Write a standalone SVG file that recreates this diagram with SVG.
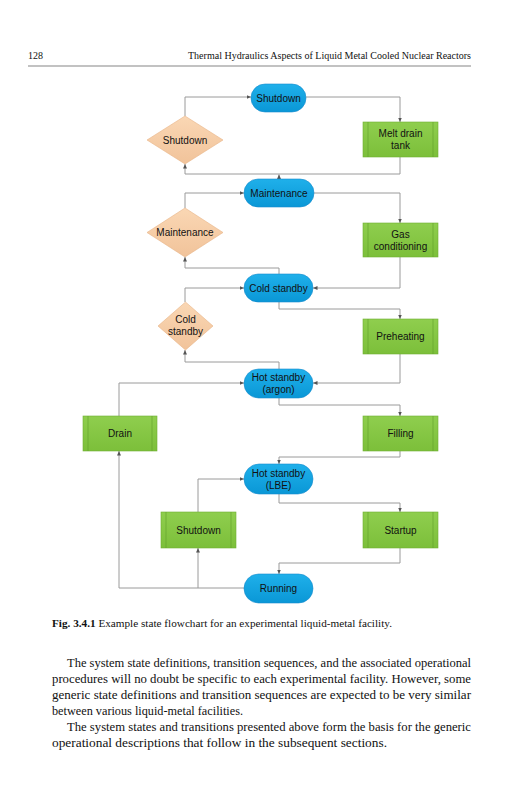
<svg xmlns="http://www.w3.org/2000/svg" width="531" height="800" viewBox="0 0 531 800">
<defs>
<linearGradient id="gb" x1="0" y1="0" x2="0" y2="1"><stop offset="0" stop-color="#1fb0ea"/><stop offset="1" stop-color="#0a97d6"/></linearGradient>
<linearGradient id="gg" x1="0" y1="0" x2="0" y2="1"><stop offset="0" stop-color="#8fce4e"/><stop offset="1" stop-color="#7cbf3a"/></linearGradient>
<linearGradient id="gd" x1="0" y1="0" x2="0" y2="1"><stop offset="0" stop-color="#fad7b4"/><stop offset="1" stop-color="#f1c39a"/></linearGradient>
<marker id="ar" markerWidth="5" markerHeight="5" refX="4.5" refY="2.5" orient="auto" markerUnits="userSpaceOnUse"><path d="M0,0.5 L4.5,2.5 L0,4.5 Z" fill="#555"/></marker>
<style>
.pill{fill:url(#gb);stroke:#1a8ccc;stroke-width:0.6}
.box{fill:url(#gg);stroke:#6fae33;stroke-width:0.6}
.bar{stroke:#5f9e2a;stroke-width:0.6}
.dia{fill:url(#gd);stroke:#e8b386;stroke-width:0.6}
.nt{font-family:"Liberation Sans",Arial,sans-serif;font-size:10px;fill:#111;text-anchor:middle}
.c{fill:none;stroke:#9a9a9a;stroke-width:1}
.a{marker-end:url(#ar)}
.hd{font-family:"Liberation Serif","Times New Roman",serif;font-size:10px;fill:#111}
.bt{font-family:"Liberation Serif","Times New Roman",serif;font-size:12px;fill:#111}
</style>
</defs>
<rect width="531" height="800" fill="#fff"/>
<text class="hd" x="28" y="58.5">128</text>
<text class="hd" x="188" y="58.5" textLength="283" lengthAdjust="spacingAndGlyphs">Thermal Hydraulics Aspects of Liquid Metal Cooled Nuclear Reactors</text>
<line x1="28" y1="66" x2="471" y2="66" stroke="#333" stroke-width="0.6"/>

<g id="connectors">
<path class="c a" d="M185,116 V97 H251"/>
<path class="c a" d="M306,97 H400 V122"/>
<path class="c a" d="M400,157 V174 H185 V164"/>
<path class="c a" d="M279,179 V174.5"/>
<path class="c a" d="M185,208 V193 H244"/>
<path class="c a" d="M314,193 H400 V223"/>
<path class="c a" d="M400,257 V288 H313"/>
<path class="c a" d="M279,274 V268 H185 V257"/>
<path class="c a" d="M279,302 V309 H400 V319"/>
<path class="c a" d="M185,302 V288 H244"/>
<path class="c a" d="M279,369 V362 H185 V350"/>
<path class="c a" d="M400,354 V383 H313"/>
<path class="c a" d="M119,416 V383 H244"/>
<path class="c a" d="M279,398 V405 H400 V416"/>
<path class="c a" d="M400,451 V457 H279 V464"/>
<path class="c a" d="M279,494 V503 H400 V512"/>
<path class="c a" d="M198,512 V479 H244"/>
<path class="c a" d="M400,548 V563 H279 V574"/>
<path class="c a" d="M244,588 H119 V451"/>
<path class="c a" d="M198,588 V548"/>
</g>

<g id="n-shutdown-state">
<rect class="pill" x="251" y="84" width="55" height="28" rx="14"/>
<text class="nt" x="278.5" y="101.5">Shutdown</text>
</g>
<g id="n-melt-drain-tank">
<rect class="box" x="363" y="122" width="75" height="35"/>
<line class="bar" x1="368" y1="122" x2="368" y2="157"/><line class="bar" x1="433" y1="122" x2="433" y2="157"/>
<text class="nt" x="400.5" y="137">Melt drain</text>
<text class="nt" x="400.5" y="149">tank</text>
</g>
<g id="n-shutdown-decision">
<polygon class="dia" points="185,116 223,140 185,164 147,140"/>
<text class="nt" x="185" y="143.5">Shutdown</text>
</g>
<g id="n-maintenance-state">
<rect class="pill" x="244" y="179" width="70" height="28" rx="14"/>
<text class="nt" x="279" y="196.5">Maintenance</text>
</g>
<g id="n-gas-conditioning">
<rect class="box" x="363" y="223" width="75" height="34"/>
<line class="bar" x1="368" y1="223" x2="368" y2="257"/><line class="bar" x1="433" y1="223" x2="433" y2="257"/>
<text class="nt" x="400.5" y="237.5">Gas</text>
<text class="nt" x="400.5" y="249.5">conditioning</text>
</g>
<g id="n-maintenance-decision">
<polygon class="dia" points="185,208 223,232.5 185,257 147,232.5"/>
<text class="nt" x="185" y="236">Maintenance</text>
</g>
<g id="n-cold-standby-state">
<rect class="pill" x="244" y="274" width="69" height="28" rx="14"/>
<text class="nt" x="278.5" y="291.5">Cold standby</text>
</g>
<g id="n-preheating">
<rect class="box" x="363" y="319" width="75" height="35"/>
<line class="bar" x1="368" y1="319" x2="368" y2="354"/><line class="bar" x1="433" y1="319" x2="433" y2="354"/>
<text class="nt" x="400.5" y="340">Preheating</text>
</g>
<g id="n-cold-standby-decision">
<polygon class="dia" points="185.5,302 213,326 185.5,350 158,326"/>
<text class="nt" x="185.5" y="322.5">Cold</text>
<text class="nt" x="185.5" y="334.5">standby</text>
</g>
<g id="n-hot-standby-argon">
<rect class="pill" x="244" y="369" width="69" height="29" rx="14.5"/>
<text class="nt" x="278.5" y="381">Hot standby</text>
<text class="nt" x="278.5" y="393">(argon)</text>
</g>
<g id="n-drain">
<rect class="box" x="83" y="416" width="74" height="35"/>
<line class="bar" x1="88" y1="416" x2="88" y2="451"/><line class="bar" x1="152" y1="416" x2="152" y2="451"/>
<text class="nt" x="120" y="437">Drain</text>
</g>
<g id="n-filling">
<rect class="box" x="363" y="416" width="75" height="35"/>
<line class="bar" x1="368" y1="416" x2="368" y2="451"/><line class="bar" x1="433" y1="416" x2="433" y2="451"/>
<text class="nt" x="400.5" y="437">Filling</text>
</g>
<g id="n-hot-standby-lbe">
<rect class="pill" x="244" y="464" width="69" height="30" rx="15"/>
<text class="nt" x="278.5" y="476.5">Hot standby</text>
<text class="nt" x="278.5" y="488.5">(LBE)</text>
</g>
<g id="n-shutdown-box">
<rect class="box" x="161" y="512" width="75" height="36"/>
<line class="bar" x1="166" y1="512" x2="166" y2="548"/><line class="bar" x1="231" y1="512" x2="231" y2="548"/>
<text class="nt" x="198.5" y="533.5">Shutdown</text>
</g>
<g id="n-startup">
<rect class="box" x="363" y="512" width="75" height="36"/>
<line class="bar" x1="368" y1="512" x2="368" y2="548"/><line class="bar" x1="433" y1="512" x2="433" y2="548"/>
<text class="nt" x="400.5" y="533.5">Startup</text>
</g>
<g id="n-running">
<rect class="pill" x="244" y="574" width="69" height="29" rx="14.5"/>
<text class="nt" x="278.5" y="591.5">Running</text>
</g>

<text class="hd" x="52" y="627" style="font-size:10.5px" textLength="340" lengthAdjust="spacingAndGlyphs"><tspan font-weight="bold">Fig. 3.4.1</tspan> Example state flowchart for an experimental liquid-metal facility.</text>

<text class="bt" x="67" y="667" textLength="404" lengthAdjust="spacingAndGlyphs">The system state definitions, transition sequences, and the associated operational</text>
<text class="bt" x="52" y="683" textLength="419" lengthAdjust="spacingAndGlyphs">procedures will no doubt be specific to each experimental facility. However, some</text>
<text class="bt" x="52" y="699" textLength="419" lengthAdjust="spacingAndGlyphs">generic state definitions and transition sequences are expected to be very similar</text>
<text class="bt" x="52" y="715" textLength="191" lengthAdjust="spacingAndGlyphs">between various liquid-metal facilities.</text>
<text class="bt" x="67" y="731" textLength="404" lengthAdjust="spacingAndGlyphs">The system states and transitions presented above form the basis for the generic</text>
<text class="bt" x="52" y="747" textLength="335" lengthAdjust="spacingAndGlyphs">operational descriptions that follow in the subsequent sections.</text>
</svg>
